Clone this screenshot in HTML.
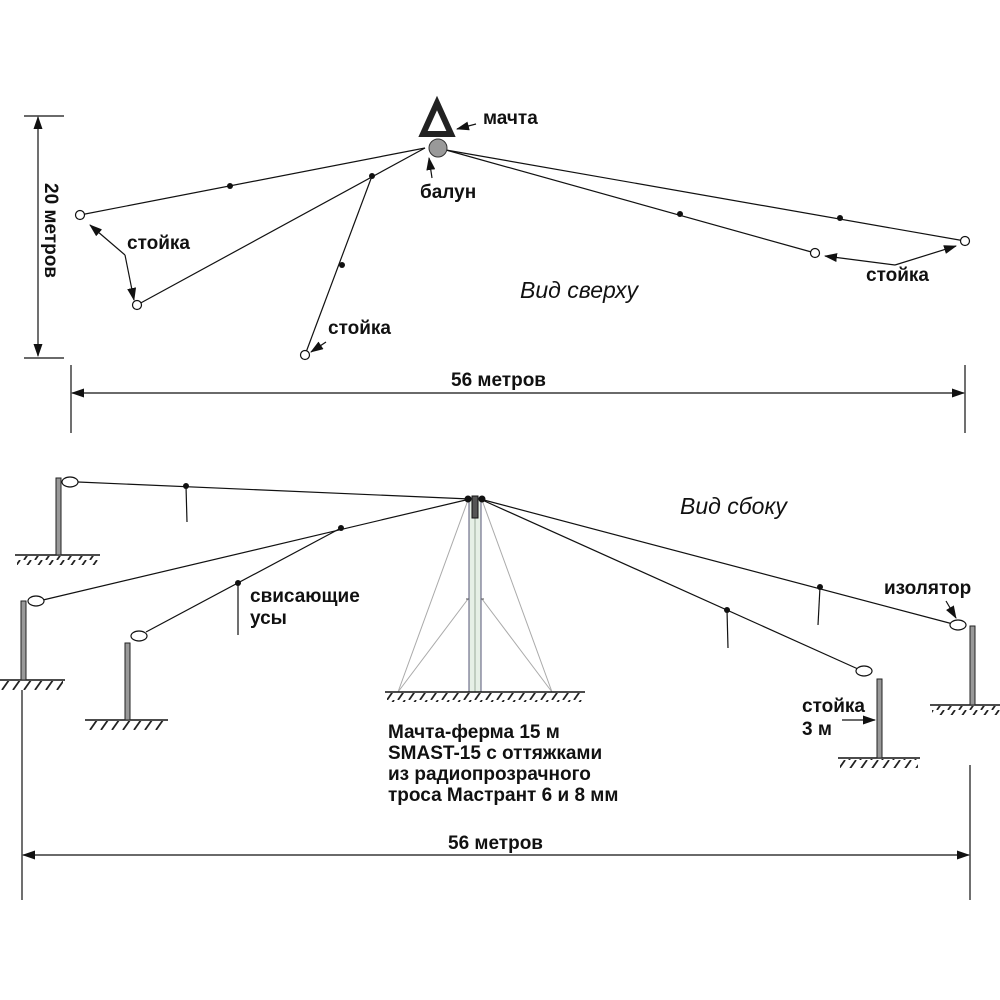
<!DOCTYPE html>
<html><head><meta charset="utf-8"><style>
html,body{margin:0;padding:0;background:#fff}
svg{display:block}
text{font-family:"Liberation Sans",sans-serif;fill:#111}
.b{font-weight:bold;font-size:19px}
.i{font-style:italic;font-size:23px}
</style></head><body>
<svg width="1000" height="1000" viewBox="0 0 1000 1000" xmlns="http://www.w3.org/2000/svg">
<defs>
<marker id="ar" markerWidth="13" markerHeight="9" refX="12" refY="4.5" orient="auto-start-reverse" markerUnits="userSpaceOnUse">
<path d="M0,0 L13,4.5 L0,9 z" fill="#111"/></marker>
<pattern id="h" width="11" height="10" patternUnits="userSpaceOnUse">
<line x1="9" y1="0" x2="2" y2="10" stroke="#222" stroke-width="1.8"/></pattern>
</defs>
<g stroke="#111" stroke-width="1.2" fill="none">
<line x1="425" y1="148" x2="80" y2="215"/>
<line x1="425" y1="148" x2="137" y2="305"/>
<line x1="372" y1="176" x2="305" y2="355"/>
<line x1="446" y1="150" x2="815" y2="253"/>
<line x1="446" y1="150" x2="965" y2="241"/>
</g>
<g fill="#111">
<circle cx="230" cy="186" r="3"/><circle cx="372" cy="176" r="3"/><circle cx="342" cy="265" r="3"/>
<circle cx="680" cy="214" r="3"/><circle cx="840" cy="218" r="3"/>
</g>
<g fill="#fff" stroke="#111" stroke-width="1.2">
<circle cx="80" cy="215" r="4.5"/><circle cx="137" cy="305" r="4.5"/><circle cx="305" cy="355" r="4.5"/>
<circle cx="815" cy="253" r="4.5"/><circle cx="965" cy="241" r="4.5"/>
</g>
<polygon points="437,103 423,134 451,134" fill="none" stroke="#222" stroke-width="6" stroke-linejoin="miter"/>
<circle cx="438" cy="148" r="9" fill="#999" stroke="#333" stroke-width="1"/>
<g stroke="#111" stroke-width="1.2" fill="none">
<line x1="476" y1="124" x2="457" y2="129" marker-end="url(#ar)"/>
<line x1="432" y1="178" x2="429" y2="158" marker-end="url(#ar)"/>
<polyline points="125,255 90,225" marker-end="url(#ar)"/>
<polyline points="125,255 134,300" marker-end="url(#ar)"/>
<line x1="326" y1="342" x2="311" y2="352" marker-end="url(#ar)"/>
<line x1="895" y1="265" x2="956" y2="246" marker-end="url(#ar)"/>
<line x1="895" y1="265" x2="825" y2="256" marker-end="url(#ar)"/>
<line x1="38" y1="117" x2="38" y2="356" marker-end="url(#ar)" marker-start="url(#ar)"/>
<line x1="24" y1="116" x2="64" y2="116"/><line x1="24" y1="358" x2="64" y2="358"/>
<line x1="71" y1="365" x2="71" y2="433"/><line x1="965" y1="365" x2="965" y2="433"/>
<line x1="72" y1="393" x2="964" y2="393" marker-end="url(#ar)" marker-start="url(#ar)"/>
</g>
<text class="b" x="483" y="124">мачта</text>
<text class="b" x="420" y="198">балун</text>
<text class="b" x="127" y="249">стойка</text>
<text class="b" x="328" y="334">стойка</text>
<text class="b" x="866" y="281">стойка</text>
<text class="i" x="520" y="298">Вид сверху</text>
<text class="b" x="45" y="183" transform="rotate(90 45 183)" font-size="17">20 метров</text>
<text class="b" x="451" y="386" font-size="17">56 метров</text>

<g stroke="#aaa" stroke-width="1" fill="none">
<line x1="468" y1="500" x2="398" y2="692"/><line x1="482" y1="500" x2="552" y2="692"/>
<line x1="468" y1="599" x2="398" y2="692"/><line x1="482" y1="599" x2="552" y2="692"/>
<line x1="466" y1="599" x2="484" y2="599" stroke="#555"/>
</g>
<rect x="469" y="498" width="12" height="194" fill="#e6f0e6" stroke="#557" stroke-width="1"/>
<line x1="475" y1="498" x2="475" y2="692" stroke="#9a9" stroke-width="1"/>
<rect x="472" y="496" width="6" height="22" fill="#555" stroke="#111"/>
<g stroke="#111" stroke-width="1.5">
<line x1="385" y1="692" x2="585" y2="692"/>
<line x1="15" y1="555" x2="100" y2="555"/>
<line x1="0" y1="680" x2="65" y2="680"/>
<line x1="85" y1="720" x2="168" y2="720"/>
<line x1="838" y1="758" x2="920" y2="758"/>
<line x1="930" y1="705" x2="1000" y2="705"/>
</g>
<g fill="url(#h)">
<rect x="387" y="693" width="196" height="9"/>
<rect x="17" y="556" width="81" height="9"/>
<rect x="0" y="681" width="63" height="9"/>
<rect x="87" y="721" width="79" height="9"/>
<rect x="840" y="759" width="78" height="9"/>
<rect x="932" y="706" width="68" height="9"/>
</g>
<g fill="#999" stroke="#222" stroke-width="1">
<rect x="56" y="478" width="5" height="77"/>
<rect x="21" y="601" width="5" height="79"/>
<rect x="125" y="643" width="5" height="77"/>
<rect x="877" y="679" width="5" height="79"/>
<rect x="970" y="626" width="5" height="79"/>
</g>
<g stroke="#111" stroke-width="1.2" fill="none">
<line x1="470" y1="499" x2="78" y2="482"/>
<line x1="470" y1="499" x2="43" y2="600"/>
<line x1="341" y1="528" x2="146" y2="632"/>
<line x1="480" y1="499" x2="953" y2="624"/>
<line x1="480" y1="499" x2="858" y2="669"/>
<line x1="186" y1="486" x2="187" y2="522"/>
<line x1="238" y1="583" x2="238" y2="635"/>
<line x1="820" y1="587" x2="818" y2="625"/>
<line x1="727" y1="610" x2="728" y2="648"/>
</g>
<g fill="#111">
<circle cx="468" cy="499" r="3.5"/><circle cx="482" cy="499" r="3.5"/>
<circle cx="186" cy="486" r="3"/><circle cx="341" cy="528" r="3"/><circle cx="238" cy="583" r="3"/>
<circle cx="820" cy="587" r="3"/><circle cx="727" cy="610" r="3"/>
</g>
<g fill="#fff" stroke="#111" stroke-width="1.2">
<ellipse cx="70" cy="482" rx="8" ry="5"/>
<ellipse cx="36" cy="601" rx="8" ry="5"/>
<ellipse cx="139" cy="636" rx="8" ry="5"/>
<ellipse cx="864" cy="671" rx="8" ry="5"/>
<ellipse cx="958" cy="625" rx="8" ry="5"/>
</g>
<g stroke="#111" stroke-width="1.2" fill="none">
<line x1="946" y1="601" x2="956" y2="618" marker-end="url(#ar)"/>
<line x1="842" y1="720" x2="875" y2="720" marker-end="url(#ar)"/>
<line x1="22" y1="690" x2="22" y2="900"/><line x1="970" y1="765" x2="970" y2="900"/>
<line x1="23" y1="855" x2="969" y2="855" marker-end="url(#ar)" marker-start="url(#ar)"/>
</g>
<text class="i" x="680" y="514">Вид сбоку</text>
<text class="b" x="250" y="602">свисающие</text>
<text class="b" x="250" y="624">усы</text>
<text class="b" x="884" y="594">изолятор</text>
<text class="b" x="802" y="712">стойка</text>
<text class="b" x="802" y="735">3 м</text>
<text class="b" x="388" y="738">Мачта-ферма 15 м</text>
<text class="b" x="388" y="759">SMAST-15 с оттяжками</text>
<text class="b" x="388" y="780">из радиопрозрачного</text>
<text class="b" x="388" y="801">троса Мастрант 6 и 8 мм</text>
<text class="b" x="448" y="849" font-size="17">56 метров</text>
</svg>
</body></html>
